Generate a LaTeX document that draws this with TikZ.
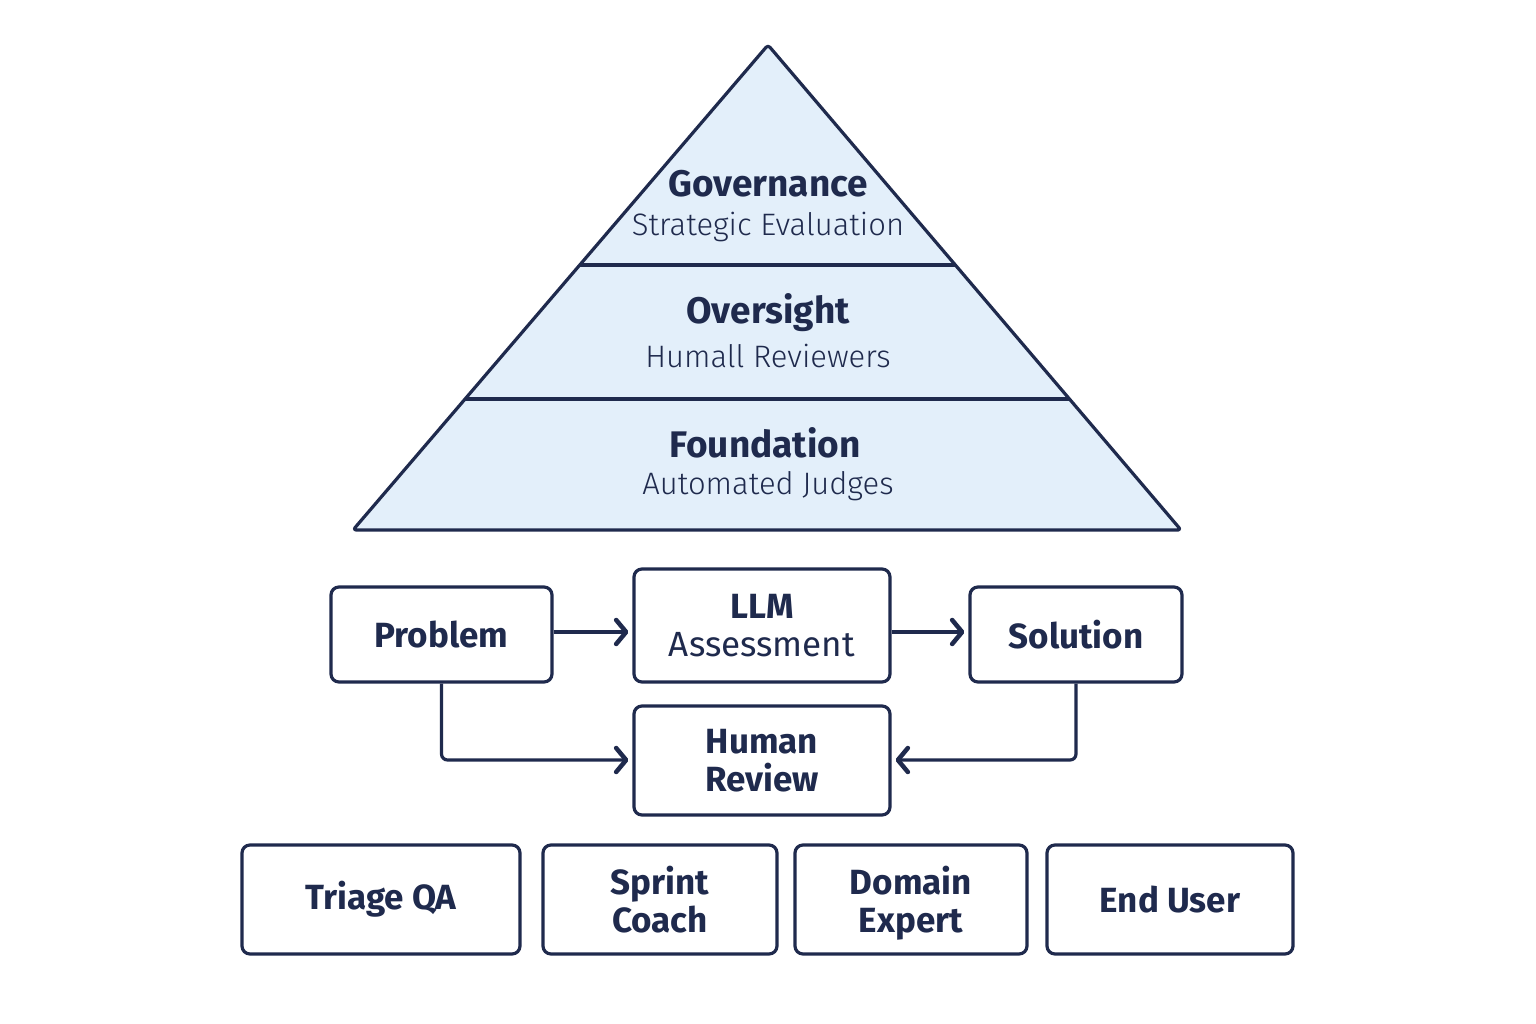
\documentclass[tikz,border=0pt]{standalone}
\usepackage{fontspec}
\setmainfont{Fira Sans}
\newfontfamily\lightfont{Fira Sans Light}
\usetikzlibrary{arrows.meta,calc}
\definecolor{ink}{HTML}{1F2A4D}
\definecolor{pfill}{HTML}{E3EFFA}
\tikzset{
  box/.style={draw=ink, line width=3.2pt, rounded corners=8pt, fill=white, text=ink, align=center,
    font=\fontsize{35}{38}\selectfont\bfseries, inner sep=0pt},
  flow/.style={draw=ink, line width=3.2pt, -{Straight Barb[length=10pt,width=24pt,line width=4.5pt,round]}},
  ttl/.style={text=ink, font=\fontsize{37}{40}\selectfont\bfseries},
  sub/.style={text=ink, font=\fontsize{31}{34}\selectfont\lightfont},
}
\begin{document}
\begin{tikzpicture}[x=1pt,y=-1pt]
\useasboundingbox (0,0) rectangle (1536,1024);
\fill[white] (0,0) rectangle (1536,1024);
% pyramid
\coordinate (apex) at (768,45);
\coordinate (bl) at (353,530);
\coordinate (br) at (1181,530);
\draw[ink, fill=pfill, line width=3.2pt, line join=round, rounded corners=3pt] (apex) -- (br) -- (bl) -- cycle;
\coordinate (d1l) at ($(apex)!0.4536!(bl)$); \coordinate (d1r) at ($(apex)!0.4536!(br)$);
\coordinate (d2l) at ($(apex)!0.7299!(bl)$); \coordinate (d2r) at ($(apex)!0.7299!(br)$);
\draw[ink, line width=3.2pt] (d1l) -- (d1r);
\draw[ink, line width=3.2pt] (d2l) -- (d2r);
\node[ttl] (gov) at (768,184) {Governance};
\node[sub] (govs) at (768,227) {Strategic Evaluation};
\node[ttl] (ovs) at (768,313) {Oversight};
\node[sub] (ovss) at (768,356) {Humall Reviewers};
\node[ttl] (fnd) at (765,443) {Foundation};
\node[sub] (fnds) at (768,486) {Automated Judges};
% flow boxes
\node[box, minimum width=221pt, minimum height=95pt] (prob) at (441.5,634.5) {Problem};
\node[box, minimum width=256pt, minimum height=113pt] (llm) at (762,625.5) {LLM\\\mdseries Assessment};
\node[box, minimum width=212pt, minimum height=95pt] (sol) at (1076,634.5) {Solution};
\node[box, minimum width=256pt, minimum height=109pt] (hum) at (762,760.5) {Human\\Review};
\draw[flow] (prob.east |- 0,632) -- ([xshift=-4pt]llm.west |- 0,632);
\draw[flow] (llm.east |- 0,632) -- ([xshift=-4pt]sol.west |- 0,632);
\draw[flow, rounded corners=6pt] (prob.south) |- ([xshift=-4pt]hum.west |- 0,760);
\draw[flow, rounded corners=6pt] (sol.south) |- ([xshift=4pt]hum.east |- 0,760);
% roles
\node[box, minimum width=278pt, minimum height=109pt] (tqa) at (381,899.5) {Triage QA};
\node[box, minimum width=234pt, minimum height=109pt] (spc) at (660,899.5) {Sprint\\Coach};
\node[box, minimum width=232pt, minimum height=109pt, text depth=0pt] (dex) at (911,899.5) {Domain\\Expert};
\node[box, minimum width=246pt, minimum height=109pt] (eus) at (1170,899.5) {End User};
\end{tikzpicture}
\end{document}
